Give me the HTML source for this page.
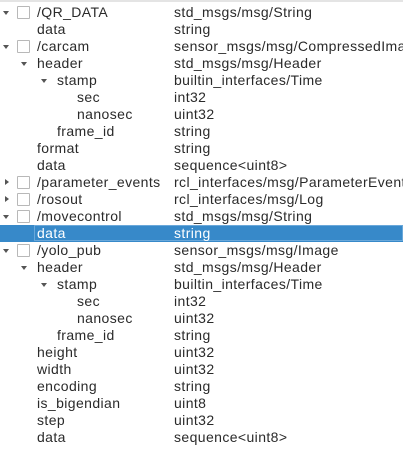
<!DOCTYPE html>
<html><head><meta charset="utf-8"><style>
body{margin:0;width:403px;height:466px;background:#fff;overflow:hidden;position:relative;font-family:"Liberation Sans","DejaVu Sans",sans-serif;font-size:14px;letter-spacing:0.4px;color:#2a2a2a}
.top{position:absolute;left:0;top:0;width:403px;height:2px;background:#e4e4e4}
.r{position:absolute;left:0;width:403px;height:17px;line-height:17px;white-space:nowrap;overflow:hidden}
.n{position:absolute}
.t{position:absolute;left:174px}
.cb{position:absolute;left:17px;top:2px;width:11px;height:11px;border:1px solid #b8b8b8;background:#fff;border-radius:1px}
.ad{position:absolute;top:7px;width:0;height:0;border-left:3.5px solid transparent;border-right:3.5px solid transparent;border-top:4px solid #555}
.ar{position:absolute;top:5px;width:0;height:0;border-top:3.5px solid transparent;border-bottom:3.5px solid transparent;border-left:4px solid #555}
.sel{background:#3789c9;color:#fff}
.focus{position:absolute;left:34px;top:0;width:369px;height:16px;border:1px solid #6aa8da;box-sizing:border-box}
</style></head><body>
<div class="top"></div>

<div class="r" style="top:4px"><div class="ad" style="left:3px"></div><div class="cb"></div><span class="n" style="left:37px">/QR_DATA</span><span class="t">std_msgs/msg/String</span></div>
<div class="r" style="top:21px"><span class="n" style="left:37px">data</span><span class="t">string</span></div>
<div class="r" style="top:38px"><div class="ad" style="left:3px"></div><div class="cb"></div><span class="n" style="left:37px">/carcam</span><span class="t">sensor_msgs/msg/CompressedImage</span></div>
<div class="r" style="top:55px"><div class="ad" style="left:21px"></div><span class="n" style="left:37px">header</span><span class="t">std_msgs/msg/Header</span></div>
<div class="r" style="top:72px"><div class="ad" style="left:41px"></div><span class="n" style="left:57px">stamp</span><span class="t">builtin_interfaces/Time</span></div>
<div class="r" style="top:89px"><span class="n" style="left:77px">sec</span><span class="t">int32</span></div>
<div class="r" style="top:106px"><span class="n" style="left:77px">nanosec</span><span class="t">uint32</span></div>
<div class="r" style="top:123px"><span class="n" style="left:57px">frame_id</span><span class="t">string</span></div>
<div class="r" style="top:140px"><span class="n" style="left:37px">format</span><span class="t">string</span></div>
<div class="r" style="top:157px"><span class="n" style="left:37px">data</span><span class="t">sequence&lt;uint8&gt;</span></div>
<div class="r" style="top:174px"><div class="ar" style="left:5px"></div><div class="cb"></div><span class="n" style="left:37px">/parameter_events</span><span class="t">rcl_interfaces/msg/ParameterEvent</span></div>
<div class="r" style="top:191px"><div class="ar" style="left:5px"></div><div class="cb"></div><span class="n" style="left:37px">/rosout</span><span class="t">rcl_interfaces/msg/Log</span></div>
<div class="r" style="top:208px"><div class="ad" style="left:3px"></div><div class="cb"></div><span class="n" style="left:37px">/movecontrol</span><span class="t">std_msgs/msg/String</span></div>
<div class="r sel" style="top:225px"><div class="focus"></div><span class="n" style="left:37px">data</span><span class="t">string</span></div>
<div class="r" style="top:242px"><div class="ad" style="left:3px"></div><div class="cb"></div><span class="n" style="left:37px">/yolo_pub</span><span class="t">sensor_msgs/msg/Image</span></div>
<div class="r" style="top:259px"><div class="ad" style="left:21px"></div><span class="n" style="left:37px">header</span><span class="t">std_msgs/msg/Header</span></div>
<div class="r" style="top:276px"><div class="ad" style="left:41px"></div><span class="n" style="left:57px">stamp</span><span class="t">builtin_interfaces/Time</span></div>
<div class="r" style="top:293px"><span class="n" style="left:77px">sec</span><span class="t">int32</span></div>
<div class="r" style="top:310px"><span class="n" style="left:77px">nanosec</span><span class="t">uint32</span></div>
<div class="r" style="top:327px"><span class="n" style="left:57px">frame_id</span><span class="t">string</span></div>
<div class="r" style="top:344px"><span class="n" style="left:37px">height</span><span class="t">uint32</span></div>
<div class="r" style="top:361px"><span class="n" style="left:37px">width</span><span class="t">uint32</span></div>
<div class="r" style="top:378px"><span class="n" style="left:37px">encoding</span><span class="t">string</span></div>
<div class="r" style="top:395px"><span class="n" style="left:37px">is_bigendian</span><span class="t">uint8</span></div>
<div class="r" style="top:412px"><span class="n" style="left:37px">step</span><span class="t">uint32</span></div>
<div class="r" style="top:429px"><span class="n" style="left:37px">data</span><span class="t">sequence&lt;uint8&gt;</span></div>
</body></html>
